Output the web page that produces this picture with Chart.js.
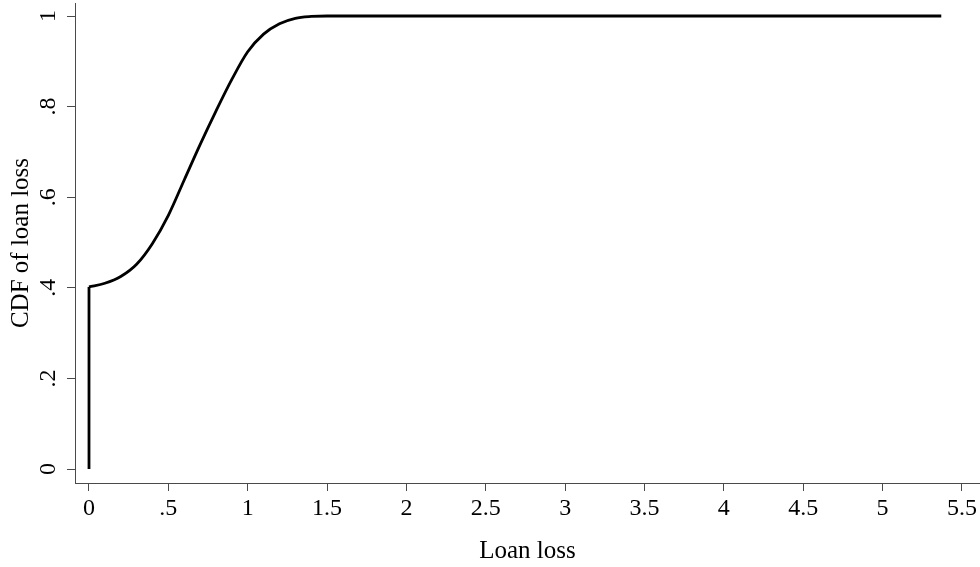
<!DOCTYPE html>
<html>
<head>
<meta charset="utf-8">
<script src="https://cdn.jsdelivr.net/npm/chart.js@4/dist/chart.umd.min.js"></script>
<style>
    html, body { margin: 0; padding: 0; background: #fff; }
    #wrap { width: 980px; height: 567px; }
</style>
</head>
<body>
<div id="wrap"><canvas id="cdf-chart"></canvas></div>
<script>
// point mass at zero, then the smooth part of the CDF
const jumpX = [0, 0];
const jumpY = [0, 0.402];

const lossX = [0, 0.1, 0.2, 0.3, 0.4, 0.5, 0.6, 0.7, 0.8, 0.9, 1.0, 1.1, 1.2, 1.3, 1.4, 1.5, 1.7, 2.0, 5.37];
const cdfY  = [0.402, 0.410, 0.425, 0.452, 0.498, 0.560, 0.638, 0.716, 0.790, 0.860, 0.921, 0.960, 0.983, 0.995, 0.999, 1.0, 1.0, 1.0, 1.0];

const xTicks = [0, 0.5, 1, 1.5, 2, 2.5, 3, 3.5, 4, 4.5, 5, 5.5];
const yTicks = [0, 0.2, 0.4, 0.6, 0.8, 1];

// Stata style labels: drop the leading zero
const stataLabel = v => String(v).replace(/^0\./, '.');

const tickFont = { family: '"Liberation Serif", "Times New Roman", serif', size: 24 };
const titleFont = { family: '"Liberation Serif", "Times New Roman", serif', size: 25 };
const axisColor = '#4a4a4a';

const toPoints = (xs, ys) => xs.map((x, i) => ({ x: x, y: ys[i] }));

document.addEventListener('DOMContentLoaded', () => {
    const ctx = document.getElementById('cdf-chart').getContext('2d');
    new Chart(ctx, {
        type: 'scatter',
        data: {
            datasets: [{
                data: toPoints(jumpX, jumpY),
                showLine: true,
                borderColor: '#000',
                borderWidth: 2.8,
                pointRadius: 0,
                tension: 0
            }, {
                data: toPoints(lossX, cdfY),
                showLine: true,
                borderColor: '#000',
                borderWidth: 2.8,
                pointRadius: 0,
                cubicInterpolationMode: 'monotone'
            }]
        },
        options: {
            responsive: true,
            maintainAspectRatio: false,
            animation: false,
            layout: { padding: { top: 3, right: 0, left: 0, bottom: 0 } },
            plugins: {
                legend: { display: false },
                tooltip: { enabled: false }
            },
            scales: {
                x: {
                    type: 'linear',
                    min: -0.0882,
                    max: 5.614,
                    afterBuildTicks: s => { s.ticks = xTicks.map(v => ({ value: v })); },
                    afterFit: s => {
                        s.height = 84;
                        s.paddingLeft = 0;
                        s.paddingRight = 0;
                    },
                    ticks: {
                        font: tickFont,
                        color: '#000',
                        padding: 3,
                        maxRotation: 0,
                        autoSkip: false,
                        callback: v => stataLabel(v)
                    },
                    grid: {
                        display: true,
                        drawOnChartArea: false,
                        drawTicks: true,
                        tickLength: 8,
                        color: axisColor
                    },
                    border: { display: true, color: axisColor, width: 1 },
                    title: {
                        display: true,
                        text: 'Loan loss',
                        font: titleFont,
                        color: '#000',
                        padding: 1
                    }
                },
                y: {
                    type: 'linear',
                    min: -0.0309,
                    max: 1.0287,
                    afterBuildTicks: s => { s.ticks = yTicks.map(v => ({ value: v })); },
                    afterFit: s => {
                        s.width = 75;
                        s.paddingTop = 0;
                        s.paddingBottom = 0;
                    },
                    ticks: {
                        font: tickFont,
                        color: '#000',
                        padding: 9,
                        minRotation: 90,
                        maxRotation: 90,
                        crossAlign: 'center',
                        autoSkip: false,
                        callback: v => stataLabel(v)
                    },
                    grid: {
                        display: true,
                        drawOnChartArea: false,
                        drawTicks: true,
                        tickLength: 8,
                        color: axisColor
                    },
                    border: { display: true, color: axisColor, width: 1 },
                    title: {
                        display: true,
                        text: 'CDF of loan loss',
                        font: titleFont,
                        color: '#000',
                        padding: 6
                    }
                }
            }
        }
    });
});
</script>
</body>
</html>
